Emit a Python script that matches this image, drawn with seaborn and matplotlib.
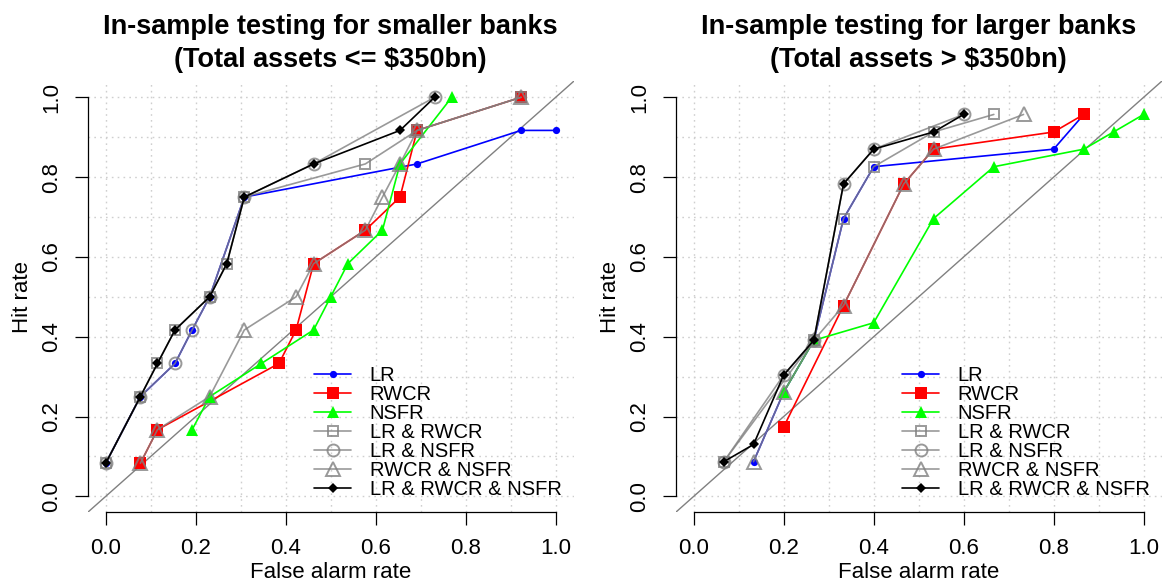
import numpy as np
import pandas as pd
import matplotlib
matplotlib.use("Agg")
import matplotlib.pyplot as plt
import seaborn as sns
from matplotlib.ticker import MultipleLocator

# ---------------- Smaller banks (total assets <= $350bn) ----------------
small_lr_far = [0.0, 0.077, 0.154, 0.192, 0.231, 0.308, 0.692, 0.923, 1.0]
small_lr_hit = [0.083, 0.25, 0.333, 0.417, 0.5, 0.75, 0.833, 0.917, 0.917]

small_rwcr_far = [0.077, 0.115, 0.385, 0.423, 0.462, 0.577, 0.654, 0.692, 0.923]
small_rwcr_hit = [0.083, 0.167, 0.333, 0.417, 0.583, 0.667, 0.75, 0.917, 1.0]

small_nsfr_far = [0.192, 0.231, 0.346, 0.462, 0.5, 0.538, 0.615, 0.654, 0.769]
small_nsfr_hit = [0.167, 0.25, 0.333, 0.417, 0.5, 0.583, 0.667, 0.833, 1.0]

small_lr_rwcr_far = [0.0, 0.077, 0.115, 0.154, 0.231, 0.269, 0.308, 0.577, 0.692, 0.923]
small_lr_rwcr_hit = [0.083, 0.25, 0.333, 0.417, 0.5, 0.583, 0.75, 0.833, 0.917, 1.0]

small_lr_nsfr_far = [0.0, 0.077, 0.154, 0.192, 0.231, 0.308, 0.462, 0.731]
small_lr_nsfr_hit = [0.083, 0.25, 0.333, 0.417, 0.5, 0.75, 0.833, 1.0]

small_rwcr_nsfr_far = [0.077, 0.115, 0.231, 0.308, 0.423, 0.462, 0.577, 0.615, 0.654, 0.692, 0.923]
small_rwcr_nsfr_hit = [0.083, 0.167, 0.25, 0.417, 0.5, 0.583, 0.667, 0.75, 0.833, 0.917, 1.0]

small_all_far = [0.0, 0.077, 0.115, 0.154, 0.231, 0.269, 0.308, 0.462, 0.654, 0.731]
small_all_hit = [0.083, 0.25, 0.333, 0.417, 0.5, 0.583, 0.75, 0.833, 0.917, 1.0]

# ---------------- Larger banks (total assets > $350bn) ----------------
large_lr_far = [0.133, 0.2, 0.267, 0.333, 0.4, 0.8, 0.867]
large_lr_hit = [0.087, 0.261, 0.391, 0.696, 0.826, 0.870, 0.957]

large_rwcr_far = [0.2, 0.333, 0.467, 0.533, 0.8, 0.867]
large_rwcr_hit = [0.174, 0.478, 0.783, 0.870, 0.913, 0.957]

large_nsfr_far = [0.2, 0.267, 0.4, 0.533, 0.667, 0.867, 0.933, 1.0]
large_nsfr_hit = [0.261, 0.391, 0.435, 0.696, 0.826, 0.870, 0.913, 0.957]

large_lr_rwcr_far = [0.067, 0.267, 0.333, 0.4, 0.533, 0.667]
large_lr_rwcr_hit = [0.087, 0.391, 0.696, 0.826, 0.913, 0.957]

large_lr_nsfr_far = [0.067, 0.2, 0.267, 0.333, 0.4, 0.6]
large_lr_nsfr_hit = [0.087, 0.304, 0.391, 0.783, 0.870, 0.957]

large_rwcr_nsfr_far = [0.133, 0.2, 0.267, 0.333, 0.467, 0.533, 0.733]
large_rwcr_nsfr_hit = [0.087, 0.261, 0.391, 0.478, 0.783, 0.870, 0.957]

large_all_far = [0.067, 0.133, 0.2, 0.267, 0.333, 0.4, 0.533, 0.6]
large_all_hit = [0.087, 0.130, 0.304, 0.391, 0.783, 0.870, 0.913, 0.957]

model_labels = ["LR", "RWCR", "NSFR", "LR & RWCR", "LR & NSFR",
                "RWCR & NSFR", "LR & RWCR & NSFR"]

small_series = [
    (small_lr_far, small_lr_hit), (small_rwcr_far, small_rwcr_hit),
    (small_nsfr_far, small_nsfr_hit), (small_lr_rwcr_far, small_lr_rwcr_hit),
    (small_lr_nsfr_far, small_lr_nsfr_hit), (small_rwcr_nsfr_far, small_rwcr_nsfr_hit),
    (small_all_far, small_all_hit),
]
large_series = [
    (large_lr_far, large_lr_hit), (large_rwcr_far, large_rwcr_hit),
    (large_nsfr_far, large_nsfr_hit), (large_lr_rwcr_far, large_lr_rwcr_hit),
    (large_lr_nsfr_far, large_lr_nsfr_hit), (large_rwcr_nsfr_far, large_rwcr_nsfr_hit),
    (large_all_far, large_all_hit),
]

panel_titles = [
    "In-sample testing for smaller banks\n(Total assets <= $350bn)",
    "In-sample testing for larger banks\n(Total assets > $350bn)",
]

GRAY = "#808080"
# colour, marker, marker size, filled, alpha
styles = [
    ("#0000FF", "o", 5.2, True, 1.0),
    ("#FF0000", "s", 8.0, True, 1.0),
    ("#00FF00", "^", 8.8, True, 1.0),
    (GRAY, "s", 7.8, False, 0.8),
    (GRAY, "o", 8.6, False, 0.8),
    (GRAY, "^", 10.0, False, 0.8),
    ("#000000", "D", 4.7, True, 1.0),
]

sns.set_style("white")
plt.rcParams["font.family"] = ["Liberation Sans", "DejaVu Sans"]
plt.rcParams.update({
    "text.color": "black",
    "axes.labelcolor": "black",
    "xtick.color": "black",
    "ytick.color": "black",
})

fig = plt.figure(figsize=(11.62, 5.88), dpi=100)
ax_left = fig.add_axes([0.0755, 0.1287, 0.4182, 0.7330])
ax_right = fig.add_axes([0.5815, 0.1287, 0.4182, 0.7330])

for ax, series, title in zip([ax_left, ax_right], [small_series, large_series], panel_titles):
    ax.set_xlim(-0.04, 1.04)
    ax.set_ylim(-0.04, 1.04)

    # 45-degree chance line
    ax.axline((0, 0), (1, 1), color=GRAY, lw=1.0, zorder=1)

    for (far, hit), label, (col, mk, ms, filled, alpha) in zip(series, model_labels, styles):
        df = pd.DataFrame({"far": far, "hit": hit})
        sns.lineplot(
            data=df, x="far", y="hit", ax=ax, sort=False, estimator=None,
            color=col, lw=1.2, alpha=alpha, label=label,
            marker=mk, markersize=ms,
            markerfacecolor=col if filled else "none",
            markeredgecolor=col, markeredgewidth=1.4 if not filled else 0.0,
            zorder=3,
        )

    ax.set_xticks(np.arange(0, 1.01, 0.2))
    ax.set_yticks(np.arange(0, 1.01, 0.2))
    ax.xaxis.set_minor_locator(MultipleLocator(0.1))
    ax.yaxis.set_minor_locator(MultipleLocator(0.1))
    ax.grid(which="both", color="#cfcfcf", linestyle=(0, (1.2, 3)), linewidth=1.0, zorder=0)
    ax.tick_params(which="minor", length=0)
    ax.tick_params(which="major", length=9.5, width=0.9, labelsize=16, pad=9,
                   direction="out", color="black", labelcolor="black",
                   bottom=True, left=True)
    for lbl in ax.get_yticklabels():
        lbl.set_rotation(90)
        lbl.set_va("center")

    for side in ["top", "right"]:
        ax.spines[side].set_visible(False)
    for side in ["left", "bottom"]:
        ax.spines[side].set_bounds(0, 1)
        ax.spines[side].set_linewidth(0.9)
        ax.spines[side].set_color("black")

    ax.set_xlabel("False alarm rate", fontsize=16, labelpad=2, color="black")
    ax.set_ylabel("Hit rate", fontsize=16, labelpad=6, color="black")
    ax.set_title(title, fontsize=19.5, fontweight="bold", pad=10,
                 linespacing=1.38, color="black")

    handles, labels = ax.get_legend_handles_labels()
    leg = ax.legend(handles, labels, loc="lower left", bbox_to_anchor=(0.466, 0.03),
                    frameon=False, fontsize=14.5, borderpad=0, borderaxespad=0,
                    handlelength=1.85, handletextpad=0.9, labelspacing=0.0)
    for txt in leg.get_texts():
        txt.set_color("black")

fig.savefig("out.png", dpi=100, facecolor="white")
